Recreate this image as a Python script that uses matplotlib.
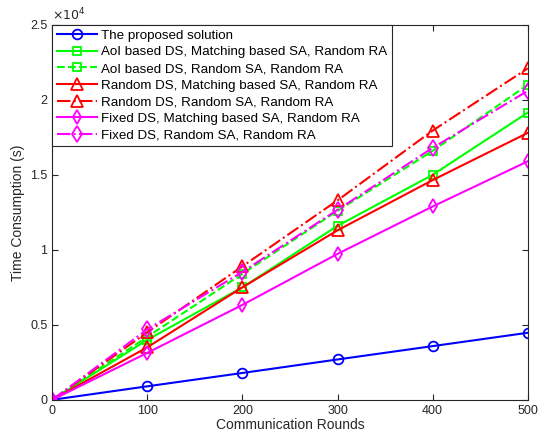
import matplotlib.pyplot as plt
from matplotlib.ticker import FuncFormatter

plt.rcParams['font.family'] = ['Liberation Sans', 'DejaVu Sans']

# Data
rounds = [0, 100, 200, 300, 400, 500]
proposed = [0, 900, 1790, 2690, 3580, 4470]
aoi_match = [0, 4000, 7500, 11600, 15000, 19150]
aoi_rand = [0, 4200, 8400, 12600, 16600, 21000]
rand_match = [0, 3500, 7500, 11300, 14650, 17800]
rand_rand = [0, 4500, 8900, 13300, 17950, 22100]
fixed_match = [0, 3130, 6330, 9730, 12890, 15900]
fixed_rand = [0, 4700, 8530, 12670, 16800, 20600]

labels = ['The proposed solution',
          'AoI based DS, Matching based SA, Random RA',
          'AoI based DS, Random SA, Random RA',
          'Random DS, Matching based SA, Random RA',
          'Random DS, Random SA, Random RA',
          'Fixed DS, Matching based SA, Random RA',
          'Fixed DS, Random SA, Random RA']

series = [proposed, aoi_match, aoi_rand, rand_match, rand_rand, fixed_match, fixed_rand]
colors = ['#0000ff', '#00ff00', '#00ff00', '#ff0000', '#ff0000', '#ff00ff', '#ff00ff']
styles = ['-', '-', '--', '-', '-.', '-', '-.']
markers = ['o', 's', 's', '^', '^', 'd', 'd']
msizes = [7, 6, 6, 9, 9, 7, 8]

fig = plt.figure(figsize=(5.38, 4.36), dpi=100)
ax = fig.add_axes([0.097, 0.083, 0.884, 0.86])

for y, c, ls, m, ms, lab in zip(series, colors, styles, markers, msizes, labels):
    ax.plot(rounds, y, color=c, linestyle=ls, marker=m, markersize=ms,
            markerfacecolor='none', markeredgewidth=1.3, linewidth=1.5, label=lab)

ax.set_xlim(0, 500)
ax.set_ylim(0, 25000)
ax.set_xticks(rounds)
ax.set_yticks([0, 5000, 10000, 15000, 20000, 25000])
ax.yaxis.set_major_formatter(FuncFormatter(lambda v, p: '%g' % (v / 1e4)))
ax.tick_params(direction='in', top=True, right=True, labelsize=9,
               colors='#262626', length=4)
for s in ax.spines.values():
    s.set_color('#262626')
    s.set_linewidth(0.8)

ax.text(0.0, 1.005, r'$\times10^4$', transform=ax.transAxes, fontsize=9,
        color='#262626', va='bottom', ha='left')

ax.set_xlabel('Communication Rounds', fontsize=10, color='#262626', labelpad=1)
ax.set_ylabel('Time Consumption (s)', fontsize=10, color='#262626', labelpad=4)

leg = ax.legend(loc='upper left', fontsize=9.6, fancybox=False, framealpha=1,
                edgecolor='#262626', borderaxespad=0, handlelength=3,
                labelspacing=0.32, borderpad=0.35, handletextpad=0.3)
leg.get_frame().set_linewidth(0.8)

fig.savefig('out.png', dpi=100)
